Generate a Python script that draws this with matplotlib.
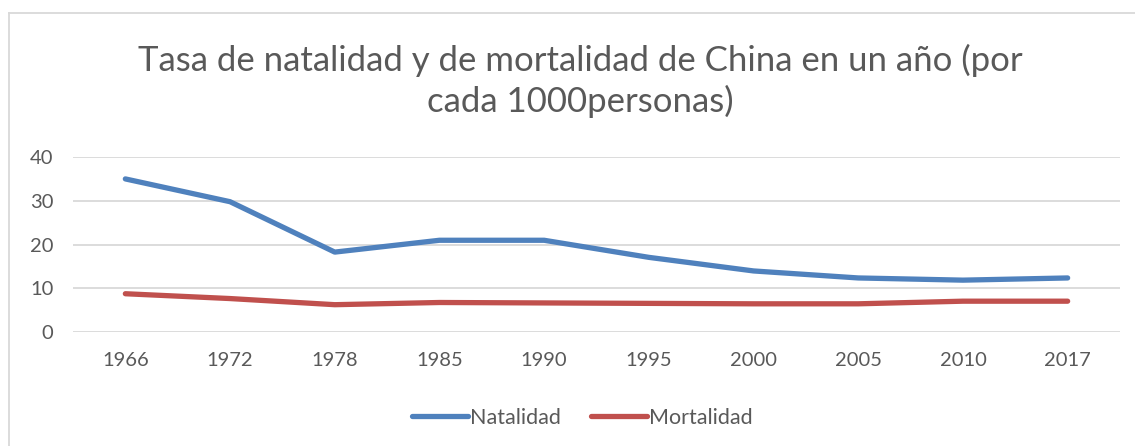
import matplotlib
matplotlib.use("Agg")
import matplotlib.pyplot as plt
from matplotlib.lines import Line2D

years = ["1966", "1972", "1978", "1985", "1990", "1995", "2000", "2005", "2010", "2017"]
natalidad = [35.0, 29.8, 18.3, 21.0, 21.0, 17.1, 14.0, 12.4, 11.9, 12.4]
mortalidad = [8.8, 7.7, 6.3, 6.8, 6.7, 6.6, 6.5, 6.5, 7.1, 7.1]
y_ticks = [0, 10, 20, 30, 40]
title = "Tasa de natalidad y de mortalidad de China en un año (por\ncada 1000personas)"

W, H = 1135, 446
fig = plt.figure(figsize=(W / 100, H / 100), dpi=100)
plt.rcParams['font.family'] = ['Lato', 'DejaVu Sans']
grey = '#595959'

ax = fig.add_axes([73 / W, 1 - 332.3 / H, (1120 - 73) / W, (332.3 - 157) / H])
x = list(range(len(years)))
ax.plot(x, natalidad, color='#4F81BD', lw=3.8, solid_capstyle='round', solid_joinstyle='round')
ax.plot(x, mortalidad, color='#C0504D', lw=3.8, solid_capstyle='round', solid_joinstyle='round')
ax.set_xlim(-0.5, len(years) - 0.5)
ax.set_ylim(0, 40)
ax.set_yticks(y_ticks)
ax.set_xticks(x)
ax.set_xticklabels(years)
ax.grid(axis='y', color='#D9D9D9', lw=1.3)
ax.set_axisbelow(True)
for s in ax.spines.values():
    s.set_visible(False)
ax.tick_params(length=0, labelsize=14.5, colors=grey, pad=14)
ax.tick_params(axis='y', pad=14)

fig.text(580 / W, 1 - 81 / H, title, ha='center', va='center', fontsize=25,
         color=grey, linespacing=1.3)

handles = [Line2D([], [], color='#4F81BD', lw=3.8, solid_capstyle='round'),
           Line2D([], [], color='#C0504D', lw=3.8, solid_capstyle='round')]
fig.legend(handles, ["Natalidad", "Mortalidad"], loc='center', bbox_to_anchor=(582 / W, 1 - 418 / H),
           ncol=2, frameon=False, fontsize=15.5, labelcolor=grey, handlelength=2.6,
           handletextpad=0.1, columnspacing=1.4)

# chart border
fig.add_artist(Line2D([9 / W, 9 / W], [0, 1 - 13 / H], transform=fig.transFigure, color='#D9D9D9', lw=1.3))
fig.add_artist(Line2D([9 / W, 1], [1 - 13 / H, 1 - 13 / H], transform=fig.transFigure, color='#D9D9D9', lw=1.3))

fig.savefig("out.png", dpi=100, facecolor='white')
